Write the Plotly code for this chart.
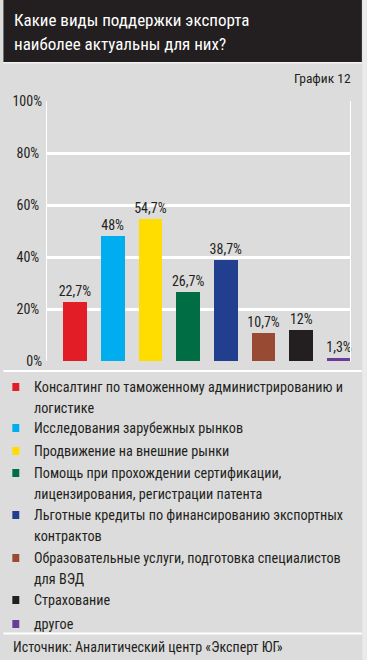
import plotly.graph_objects as go

categories = [
    "Консалтинг по таможенному администрированию и<br>логистике",
    "Исследования зарубежных рынков",
    "Продвижение на внешние рынки",
    "Помощь при прохождении сертификации,<br>лицензирования, регистрации патента",
    "Льготные кредиты по финансированию экспортных<br>контрактов",
    "Образовательные услуги, подготовка специалистов<br>для ВЭД",
    "Страхование",
    "другое",
]
values = [22.7, 48, 54.7, 26.7, 38.7, 10.7, 12, 1.3]
colors = ["#e31d25", "#00adef", "#ffdd00", "#006d45", "#213e8f", "#984a33", "#231f20", "#6a3c99"]
ytick_mid = [20, 40, 60, 80]
ytick_edge = [0, 100]

title_lines = ["Какие виды поддержки экспорта", "наиболее актуальны для них?"]
chart_no = "График 12"
source_text = "Источник: Аналитический центр «Эксперт ЮГ»"

W, H = 367, 660
ML, MR, MT, MB = 44, 17, 101, 299
PW, PH = W - ML - MR, H - MT - MB
FONT = "Liberation Sans Narrow, Arial Narrow, Roboto Condensed, Liberation Sans, sans-serif"
DARK = "#231f20"
GRAY = "#dcdcdc"

def fmt(v):
    s = ("%g" % v).replace(".", ",")
    return s + "%"

fig = go.Figure()
fig.add_trace(go.Bar(
    x=list(range(len(values))),
    y=values,
    marker=dict(color=colors, line=dict(width=0)),
    width=0.63,
    text=[fmt(v) for v in values],
    textposition="outside",
    constraintext="none",
    textfont=dict(family=FONT, size=14, color=DARK),
    cliponaxis=False,
    hoverinfo="skip",
))
fig.add_trace(go.Scatter(x=[0], y=[0], yaxis="y2", mode="markers",
                         marker=dict(opacity=0), hoverinfo="skip", showlegend=False))

fig.update_layout(
    width=W, height=H,
    margin=dict(l=ML, r=MR, t=MT, b=MB),
    paper_bgcolor=GRAY, plot_bgcolor=GRAY,
    showlegend=False,
    bargap=0,
    xaxis=dict(range=[-0.74, 7.29], showgrid=False, zeroline=False,
               showticklabels=False, ticks="", fixedrange=True),
    yaxis=dict(range=[0, 100], tickvals=ytick_mid, ticktext=[f"{v}%" for v in ytick_mid],
               showgrid=True, gridcolor="white", gridwidth=3, zeroline=False,
               showline=True, mirror=True, linecolor="white", linewidth=1,
               ticks="", ticklabelstandoff=4,
               tickfont=dict(family=FONT, size=14, color=DARK)),
    yaxis2=dict(range=[0, 100], overlaying="y", side="left",
                tickvals=ytick_edge, ticktext=[f"{v}%" for v in ytick_edge],
                showgrid=True, gridcolor="white", gridwidth=1, zeroline=False,
                ticks="", ticklabelstandoff=4,
                tickfont=dict(family=FONT, size=14, color=DARK)),
)

def px(x):
    return (x - ML) / PW

def py(y):
    return (H - MB - y) / PH

shapes = [
    dict(type="rect", xref="paper", yref="paper", x0=px(0), x1=px(362), y0=py(62), y1=py(0),
         fillcolor=DARK, line=dict(width=0), layer="below"),
    dict(type="rect", xref="paper", yref="paper", x0=px(0), x1=px(362), y0=py(63.5), y1=py(62),
         fillcolor="#f2f2f2", line=dict(width=0), layer="below"),
    dict(type="rect", xref="paper", yref="paper", x0=px(362.5), x1=px(367), y0=py(660), y1=py(0),
         fillcolor="#ebebeb", line=dict(width=0), layer="below"),
    dict(type="line", xref="paper", yref="paper", x0=px(0), x1=px(362), y0=py(371), y1=py(371),
         line=dict(color="white", width=2)),
    dict(type="line", xref="paper", yref="paper", x0=px(0), x1=px(362), y0=py(633.5), y1=py(633.5),
         line=dict(color="white", width=2)),
]

annotations = [
    dict(text=chart_no, xref="paper", yref="paper", x=px(353), y=py(78), xanchor="right", yanchor="middle",
         showarrow=False, font=dict(family=FONT, size=13.5, color=DARK)),
    dict(text=source_text, xref="paper", yref="paper", x=px(8), y=py(647), xanchor="left", yanchor="middle",
         showarrow=False, font=dict(family=FONT, size=14, color=DARK)),
]
for k, line in enumerate(title_lines):
    annotations.append(dict(text=line, xref="paper", yref="paper", x=px(9), y=py(20 + 24 * k),
                            xanchor="left", yanchor="middle", showarrow=False,
                            font=dict(family=FONT, size=17, color="white")))

entry_y = [387, 428, 451, 473, 515, 558, 600, 624]
line_step = 21
for label, col, y0 in zip(categories, colors, entry_y):
    shapes.append(dict(type="rect", xref="paper", yref="paper",
                       x0=px(9), x1=px(16), y0=py(y0 + 4), y1=py(y0 - 4),
                       fillcolor=col, line=dict(width=0)))
    for k, line in enumerate(label.split("<br>")):
        annotations.append(dict(text=line, xref="paper", yref="paper", x=px(29), y=py(y0 + k * line_step),
                                xanchor="left", yanchor="middle", showarrow=False,
                                font=dict(family=FONT, size=14.2, color=DARK)))

fig.update_layout(shapes=shapes, annotations=annotations)
fig.write_html("out.html", config={"displayModeBar": False, "staticPlot": True},
               post_script="document.body.style.margin='0';document.body.style.padding='0';")
